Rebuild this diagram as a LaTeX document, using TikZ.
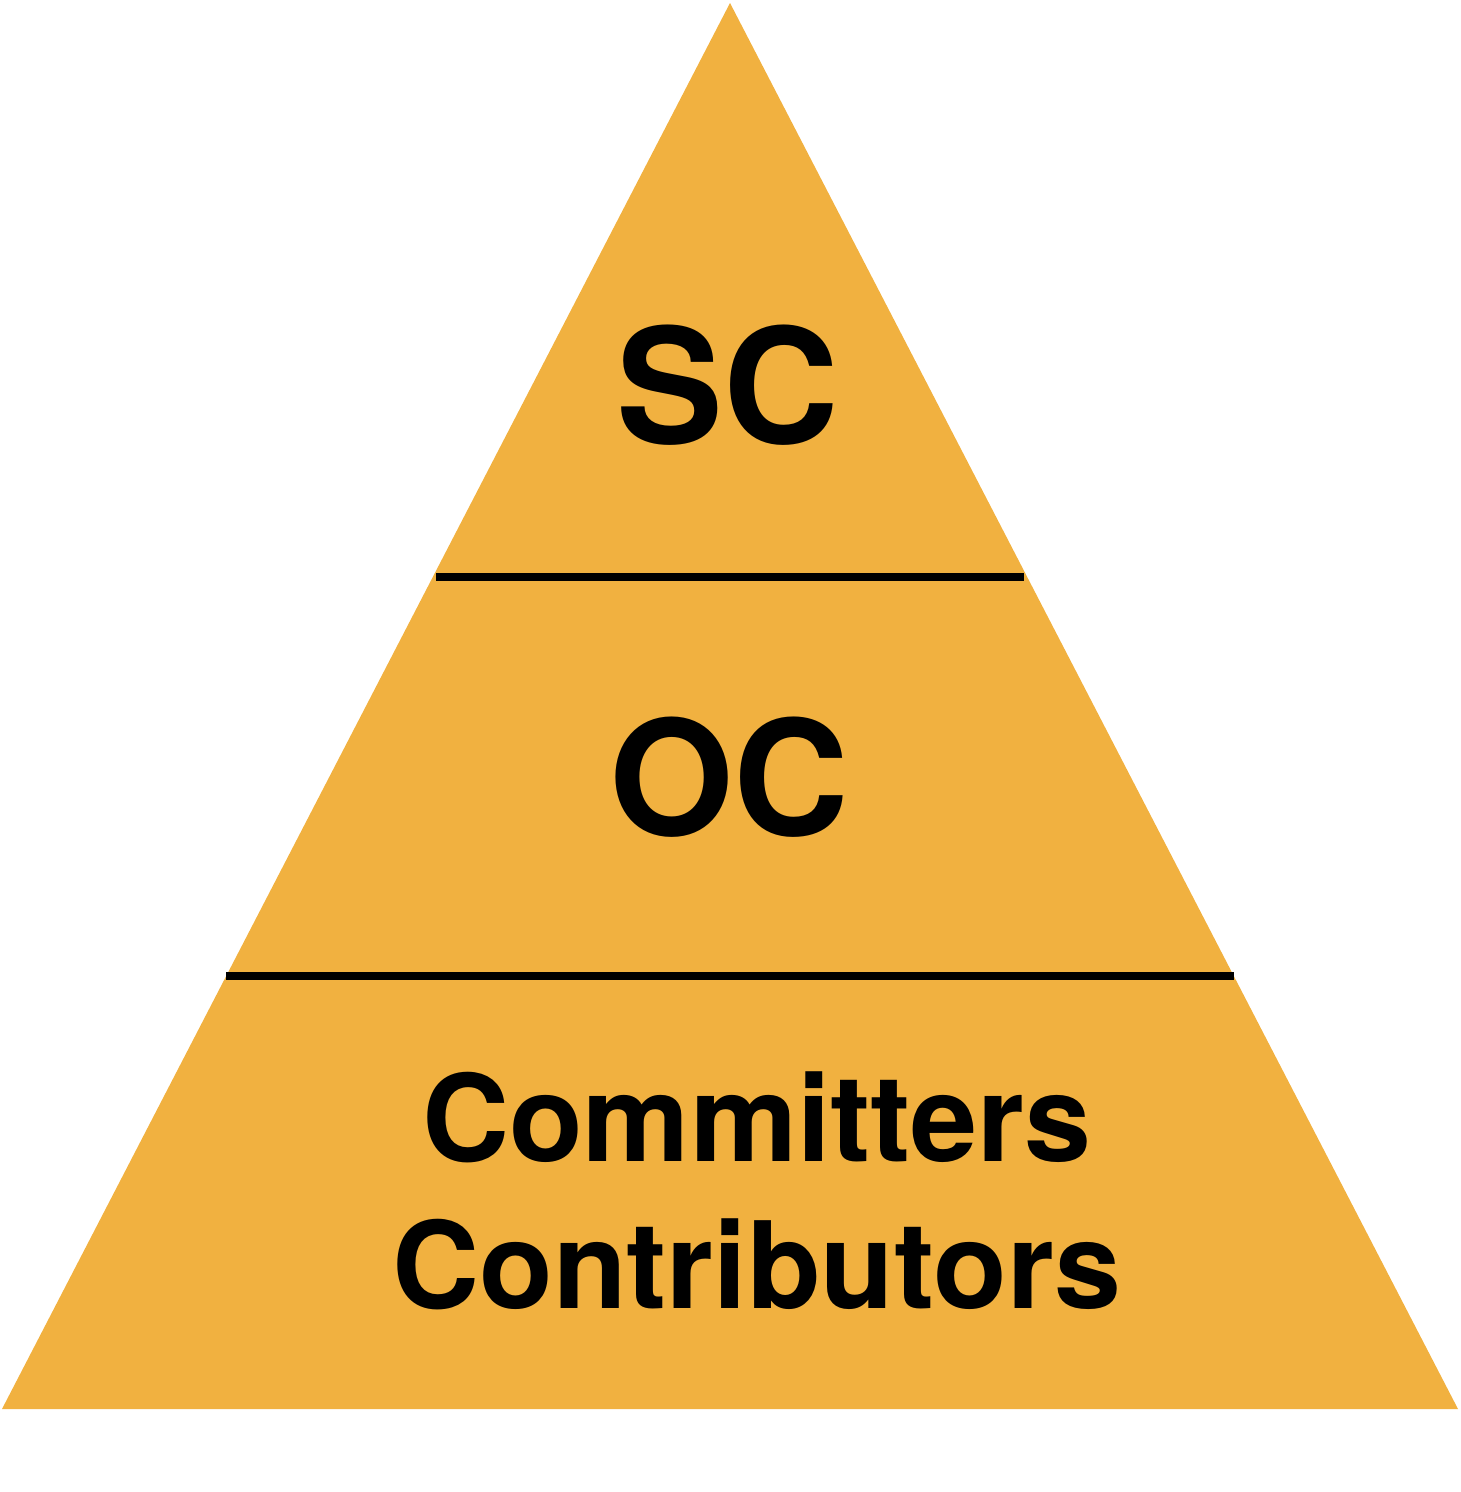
\documentclass[tikz,border=0pt]{standalone}
\usepackage{fontspec}
\setmainfont{TeX Gyre Heros}
\definecolor{tierfill}{RGB}{241,177,64}
\begin{document}
\begin{tikzpicture}[x=1pt,y=-1pt,
  tierline/.style={line width=8pt,black},
  bigtier/.style={inner sep=0pt,anchor=base,font=\fontsize{160}{192}\selectfont\bfseries},
  basetier/.style={inner sep=0pt,anchor=base,font=\fontsize{120.5}{145}\selectfont\bfseries}]
  \useasboundingbox (0,0) rectangle (1460,1492);
  % pyramid body
  \coordinate (apex) at (730,3);
  \coordinate (bl) at (2,1409);
  \coordinate (br) at (1458,1409);
  \fill[tierfill] (apex) -- (br) -- (bl) -- cycle;
  % tier dividers
  \coordinate (d1l) at (436,577);
  \coordinate (d1r) at (1024,577);
  \coordinate (d2l) at (226,976);
  \coordinate (d2r) at (1234,976);
  \draw[tierline] (d1l) -- (d1r);
  \draw[tierline] (d2l) -- (d2r);
  % tier labels
  \node[bigtier] (sc) at (728,443) {SC};
  \node[bigtier] (oc) at (729,835) {OC};
  \node[basetier] (committers) at (757,1161) {Committers};
  \node[basetier] (contributors) at (757,1308) {Contributors};
\end{tikzpicture}
\end{document}
